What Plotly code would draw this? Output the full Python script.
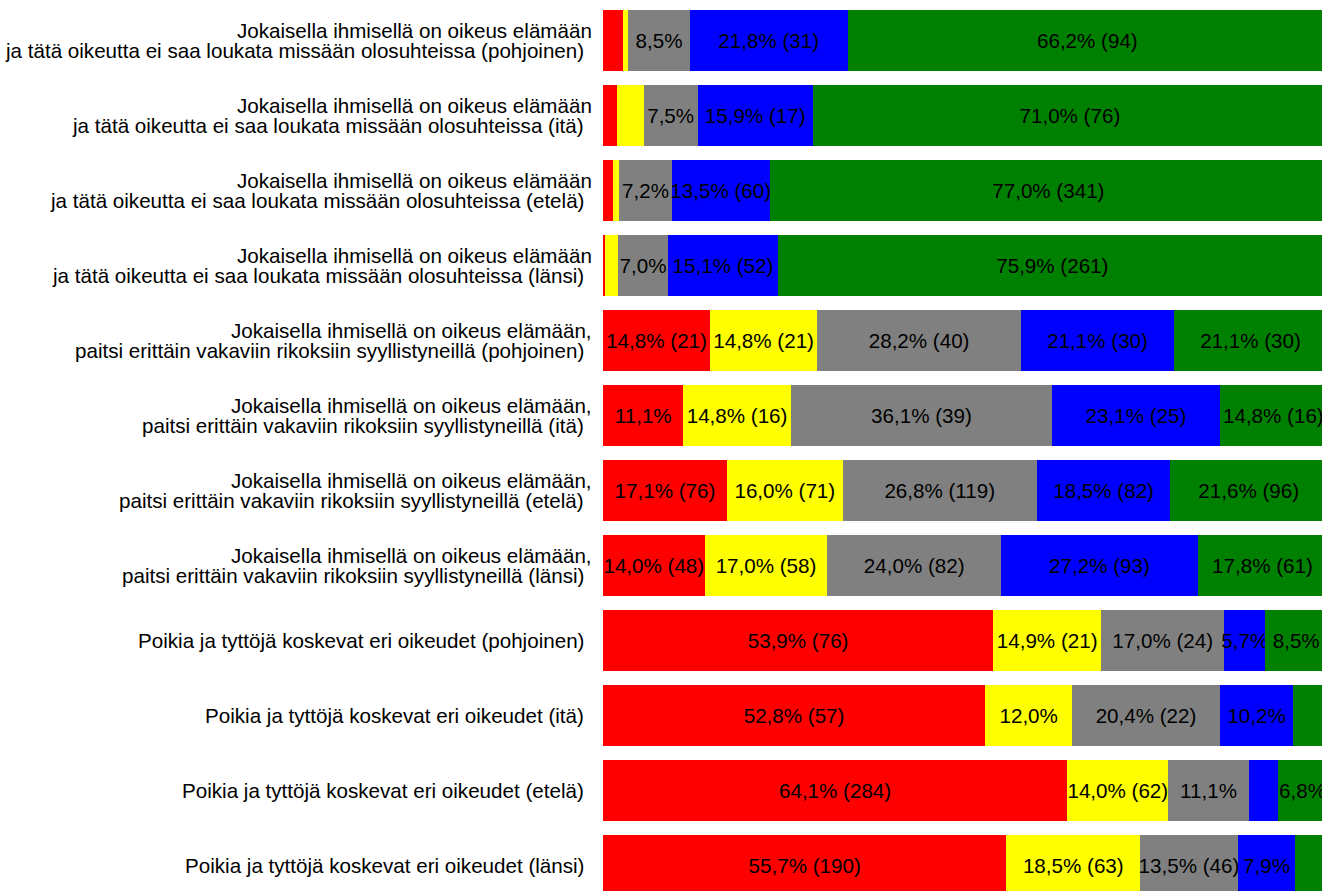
import plotly.graph_objects as go

# one row per bar, top to bottom; two-line labels are split in two lists
label_line1 = [
    "Jokaisella ihmisellä on oikeus elämään",
    "Jokaisella ihmisellä on oikeus elämään",
    "Jokaisella ihmisellä on oikeus elämään",
    "Jokaisella ihmisellä on oikeus elämään",
    "Jokaisella ihmisellä on oikeus elämään,",
    "Jokaisella ihmisellä on oikeus elämään,",
    "Jokaisella ihmisellä on oikeus elämään,",
    "Jokaisella ihmisellä on oikeus elämään,",
    "Poikia ja tyttöjä koskevat eri oikeudet (pohjoinen)",
    "Poikia ja tyttöjä koskevat eri oikeudet (itä)",
    "Poikia ja tyttöjä koskevat eri oikeudet (etelä)",
    "Poikia ja tyttöjä koskevat eri oikeudet (länsi)",
]
label_line2 = [
    "ja tätä oikeutta ei saa loukata missään olosuhteissa (pohjoinen)",
    "ja tätä oikeutta ei saa loukata missään olosuhteissa (itä)",
    "ja tätä oikeutta ei saa loukata missään olosuhteissa (etelä)",
    "ja tätä oikeutta ei saa loukata missään olosuhteissa (länsi)",
    "paitsi erittäin vakaviin rikoksiin syyllistyneillä (pohjoinen)",
    "paitsi erittäin vakaviin rikoksiin syyllistyneillä (itä)",
    "paitsi erittäin vakaviin rikoksiin syyllistyneillä (etelä)",
    "paitsi erittäin vakaviin rikoksiin syyllistyneillä (länsi)",
    "",
    "",
    "",
    "",
]
categories = [f"{a} {b}".strip() for a, b in zip(label_line1, label_line2)]

# answer counts per answer option (colour)
red = [4, 2, 6, 1, 21, 12, 76, 48, 76, 57, 284, 190]
yellow = [1, 4, 4, 6, 21, 16, 71, 58, 21, 13, 62, 63]
gray = [12, 8, 32, 24, 40, 39, 119, 82, 24, 22, 49, 46]
blue = [31, 17, 60, 52, 30, 25, 82, 93, 8, 11, 18, 27]
green = [94, 76, 341, 261, 30, 16, 96, 61, 12, 5, 30, 15]

series = [
    (red, "#FF0000"),
    (yellow, "#FFFF00"),
    (gray, "#808080"),
    (blue, "#0000FF"),
    (green, "#008000"),
]

totals = [sum(s[i] for s, _ in series) for i in range(len(categories))]


def fmt(pct):
    return f"{pct:.1f}".replace(".", ",") + "%"


def bar_label(n, pct):
    # wide segments get the count, narrow ones only the percentage, tiny ones nothing
    if pct >= 13:
        return f"{fmt(pct)} ({n})"
    if pct >= 5:
        return fmt(pct)
    return ""


font_family = "Arial, Liberation Sans, sans-serif"
font_size = 20.6

fig = go.Figure()
for counts, color in series:
    pcts = [n / t * 100 for n, t in zip(counts, totals)]
    fig.add_trace(
        go.Bar(
            y=categories,
            x=pcts,
            orientation="h",
            marker=dict(color=color, line=dict(width=0)),
            text=[bar_label(n, p) for n, p in zip(counts, pcts)],
            textposition="inside",
            insidetextanchor="middle",
            textangle=0,
            textfont=dict(color="black", size=font_size, family=font_family),
            cliponaxis=True,
        )
    )

# category labels drawn as annotations so the two lines sit close together
for cat, l1, l2 in zip(categories, label_line1, label_line2):
    if l2:
        fig.add_annotation(
            x=0, xref="paper", y=cat, yref="y", text=l1,
            xanchor="right", yanchor="middle", xshift=-9, yshift=10,
            showarrow=False,
        )
        fig.add_annotation(
            x=0, xref="paper", y=cat, yref="y", text=l2,
            xanchor="right", yanchor="middle", xshift=-17, yshift=-10,
            showarrow=False,
        )
    else:
        fig.add_annotation(
            x=0, xref="paper", y=cat, yref="y", text=l1,
            xanchor="right", yanchor="middle", xshift=-17,
            showarrow=False,
        )

fig.update_layout(
    barmode="stack",
    bargap=0.187,
    width=1322,
    height=891,
    margin=dict(l=603, r=0, t=0, b=0),
    plot_bgcolor="white",
    paper_bgcolor="white",
    showlegend=False,
    uniformtext=dict(minsize=font_size, mode="show"),
    font=dict(family=font_family, size=font_size, color="black"),
)
fig.update_xaxes(
    range=[0, 99.31],
    showticklabels=False,
    showgrid=False,
    zeroline=False,
    showline=False,
)
fig.update_yaxes(
    type="category",
    categoryarray=categories,
    range=[11.34, -0.54],
    showticklabels=False,
    showgrid=False,
    zeroline=False,
    showline=False,
    automargin=False,
)

fig.write_html(
    "out.html",
    config={"displayModeBar": False},
    post_script="document.body.style.margin='0';document.body.style.overflow='hidden';",
)
